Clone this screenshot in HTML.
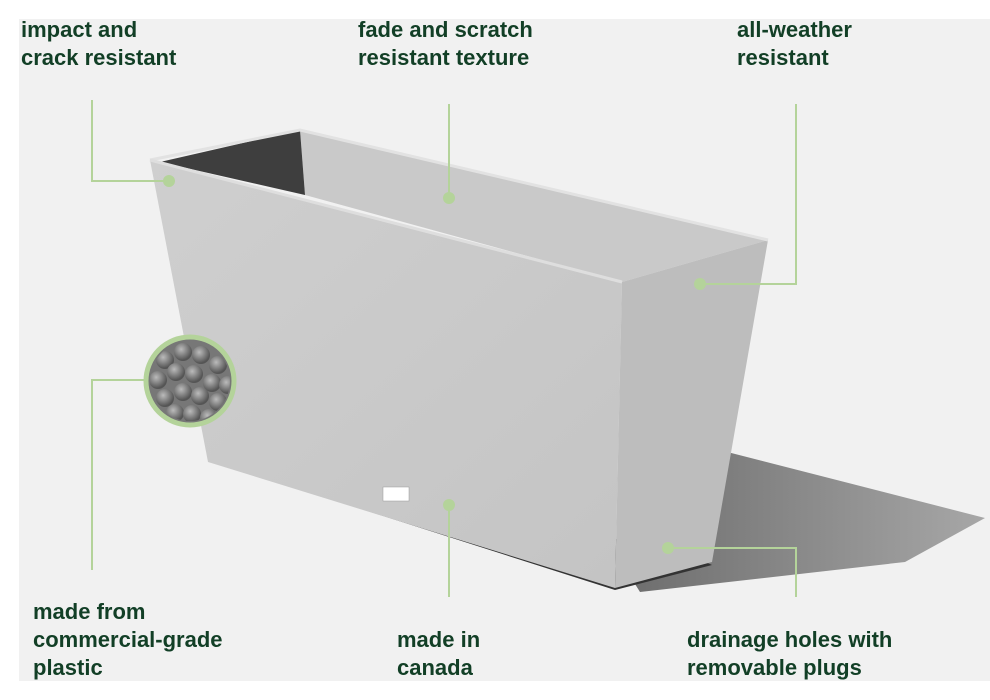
<!DOCTYPE html>
<html><head><meta charset="utf-8"><style>
body{margin:0;background:#fff;}
svg{display:block}
text{font-family:"Liberation Sans",sans-serif;font-size:22px;fill:#123f26;font-weight:bold;}
</style></head><body>
<svg width="990" height="700" viewBox="0 0 990 700">
<defs>
<linearGradient id="sh" x1="0" y1="0" x2="1" y2="0"><stop offset="0" stop-color="#555"/><stop offset="1" stop-color="#9a9a9a"/></linearGradient>
<linearGradient id="fr" x1="0" y1="0" x2="1" y2="1"><stop offset="0" stop-color="#cfcfcf"/><stop offset="1" stop-color="#c4c4c4"/></linearGradient>
<radialGradient id="ball" cx="0.4" cy="0.35" r="0.6"><stop offset="0" stop-color="#bbb"/><stop offset="1" stop-color="#555"/></radialGradient>
<clipPath id="cc"><circle cx="190" cy="381" r="40"/></clipPath>
</defs>
<rect x="0" y="0" width="990" height="700" fill="#fff"/>
<rect x="19" y="19" width="971" height="662" fill="#f1f1f1"/>
<!-- shadow -->
<polygon points="700,445 985,518 905,562 640,592 620,560" fill="url(#sh)" opacity="0.85"/>
<polygon points="208,460 615,590 712,565 690,555 230,455" fill="#333"/>
<!-- interior back wall -->
<polygon points="300,130 768,240 622,282 305,195" fill="#c9c9c9"/>
<polygon points="160,162 300,130 305,195" fill="#3e3e3e"/>
<!-- front face -->
<polygon points="150,160 622,282 615,588 208,462" fill="url(#fr)"/>
<!-- side face -->
<polygon points="622,282 768,240 712,562 615,588" fill="#bdbdbd"/>
<polyline points="150,160 300,130 768,240" fill="none" stroke="#e2e2e2" stroke-width="3"/>
<line x1="150" y1="160" x2="622" y2="282" stroke="#dedede" stroke-width="3"/>
<rect x="383" y="487" width="26" height="14" fill="#fff" stroke="#999" stroke-width="0.5"/>
<!-- callout lines -->
<g stroke="#b4d39a" stroke-width="2" fill="none">
<polyline points="92,100 92,181 168,181"/>
<line x1="449" y1="104" x2="449" y2="198"/>
<polyline points="796,104 796,284 700,284"/>
<polyline points="92,570 92,380 145,380"/>
<line x1="449" y1="505" x2="449" y2="597"/>
<polyline points="668,548 796,548 796,597"/>
</g>
<g fill="#b4d39a">
<circle cx="169" cy="181" r="6"/><circle cx="449" cy="198" r="6"/><circle cx="700" cy="284" r="6"/>
<circle cx="449" cy="505" r="6"/><circle cx="668" cy="548" r="6"/>
</g>
<!-- material circle -->
<circle cx="190" cy="381" r="44" fill="#777" stroke="#b4d39a" stroke-width="5"/>
<g clip-path="url(#cc)" fill="url(#ball)">
<circle cx="165" cy="360" r="9"/><circle cx="183" cy="352" r="9"/><circle cx="201" cy="355" r="9"/><circle cx="218" cy="365" r="9"/>
<circle cx="158" cy="380" r="9"/><circle cx="176" cy="372" r="9"/><circle cx="194" cy="374" r="9"/><circle cx="212" cy="383" r="9"/><circle cx="228" cy="385" r="9"/>
<circle cx="165" cy="398" r="9"/><circle cx="183" cy="392" r="9"/><circle cx="200" cy="396" r="9"/><circle cx="218" cy="402" r="9"/>
<circle cx="175" cy="413" r="9"/><circle cx="192" cy="414" r="9"/><circle cx="209" cy="418" r="9"/>
</g>
<!-- labels -->
<text x="21" y="37">impact and</text><text x="21" y="65">crack resistant</text>
<text x="358" y="37">fade and scratch</text><text x="358" y="65">resistant texture</text>
<text x="737" y="37">all-weather</text><text x="737" y="65">resistant</text>
<text x="33" y="619">made from</text><text x="33" y="647">commercial-grade</text><text x="33" y="675">plastic</text>
<text x="397" y="647">made in</text><text x="397" y="675">canada</text>
<text x="687" y="647">drainage holes with</text><text x="687" y="675">removable plugs</text>
</svg>
</body></html>
